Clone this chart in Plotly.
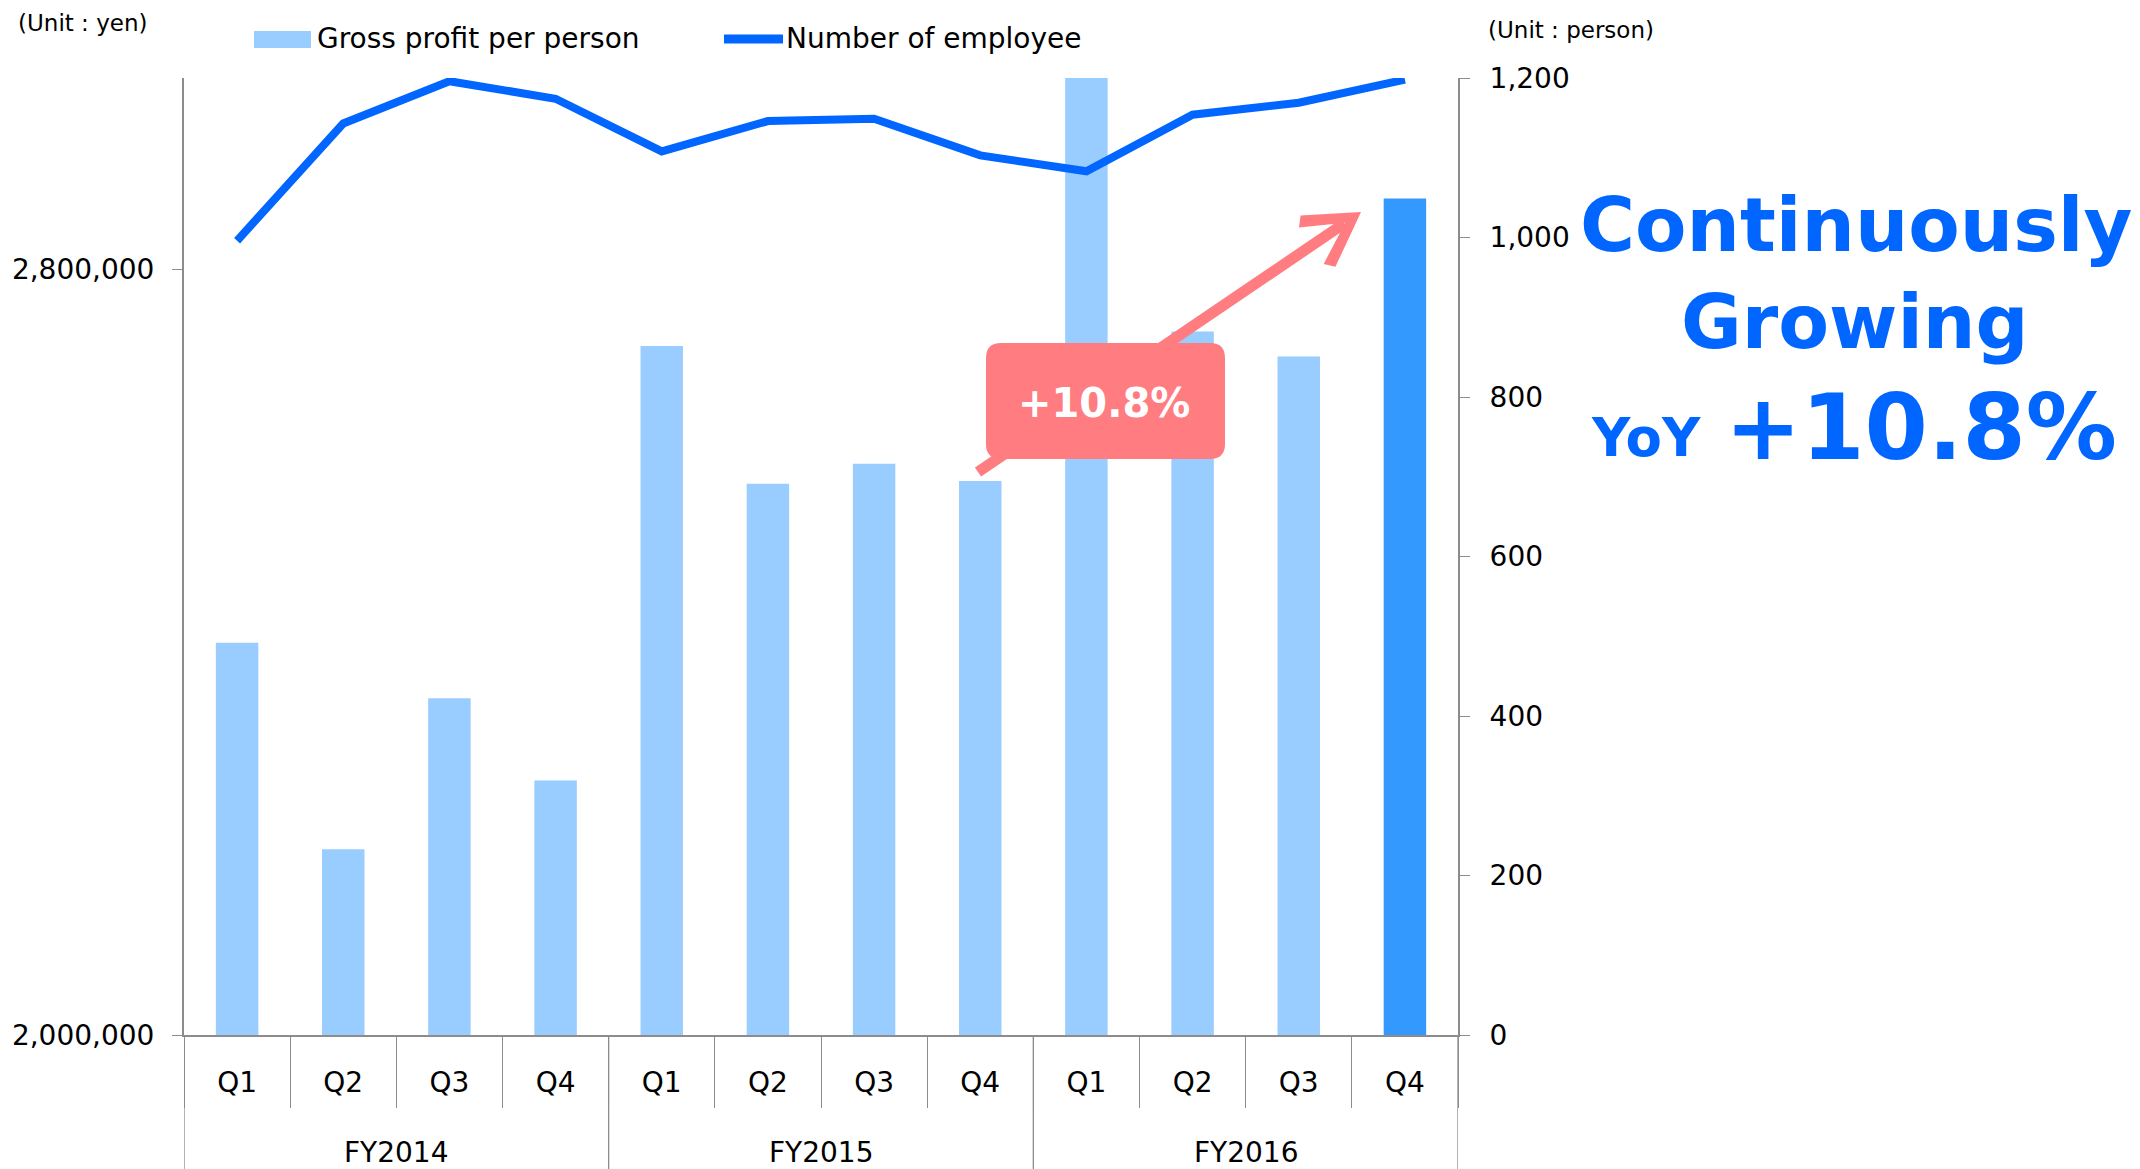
import math
import plotly.graph_objects as go

# ---- data -------------------------------------------------------------
fiscal_years = ["FY2014", "FY2015", "FY2016"]
quarters = ["Q1", "Q2", "Q3", "Q4"]
gross_profit_per_person = [2410000, 2194000, 2352000, 2266000,
                           2720000, 2576000, 2597000, 2579000,
                           3012000, 2735000, 2709000, 2874000]
employees = [996, 1143, 1196, 1174,
             1108, 1146, 1149, 1103,
             1083, 1154, 1169, 1198]
yoy_label = "+10.8%"

# ---- styling ----------------------------------------------------------
W, H = 2140, 1169
ML, MR, MT, MB = 184, 682, 78, 134
PW, PH = W - ML - MR, H - MT - MB
GRAY = "#8C8C8C"
BAR_LIGHT = "#99CCFF"
BAR_HIGHLIGHT = "#3399FF"
LINE_BLUE = "#0066FF"
CALLOUT = "#FF7C80"
FONT = "DejaVu Sans"


def px(xp):
    """Pixel column -> paper x."""
    return (xp - ML) / PW


def py(yp):
    """Pixel row -> paper y."""
    return (H - MB - yp) / PH


# category keys (year + quarter) with quarter-only tick text
keys, tick_text, groups = [], [], []
for fy in fiscal_years:
    for q in quarters:
        keys.append(f"{fy} {q}")
        tick_text.append(q)
        groups.append(fy)

bar_colors = [BAR_LIGHT] * (len(keys) - 1) + [BAR_HIGHLIGHT]

fig = go.Figure()
fig.add_trace(go.Bar(
    x=keys, y=gross_profit_per_person, name="Gross profit per person",
    marker=dict(color=bar_colors, line=dict(width=0)),
    showlegend=False, hoverinfo="skip",
))
fig.add_trace(go.Scatter(
    x=keys, y=employees, name="Number of employee", yaxis="y2",
    mode="lines", line=dict(color=LINE_BLUE, width=8),
    showlegend=False, hoverinfo="skip",
))

shapes = []
annotations = []

# fiscal-year group dividers and labels under the quarter row
n_cat = len(keys)
bounds = [-0.5]
for i in range(1, n_cat):
    if groups[i] != groups[i - 1]:
        bounds.append(i - 0.5)
bounds.append(n_cat - 0.5)
for b in bounds:
    shapes.append(dict(type="line", xref="x", yref="paper",
                       x0=b, x1=b, y0=0, y1=py(H + 2),
                       line=dict(color=GRAY, width=1.3), layer="above"))
for fy in fiscal_years:
    idx = [i for i, g in enumerate(groups) if g == fy]
    annotations.append(dict(xref="x", yref="paper", x=sum(idx) / len(idx),
                            y=py(1152), text=fy, showarrow=False,
                            xanchor="center", yanchor="middle",
                            font=dict(family=FONT, size=28, color="black")))

# legend drawn as swatches + labels across the top
shapes.append(dict(type="rect", xref="paper", yref="paper",
                   x0=px(254), x1=px(311), y0=py(31), y1=py(48),
                   fillcolor=BAR_LIGHT, line=dict(width=0)))
annotations.append(dict(xref="paper", yref="paper", x=px(315), y=py(39),
                        text="Gross profit per person", showarrow=False,
                        xanchor="left", yanchor="middle",
                        font=dict(family=FONT, size=28, color="black")))
shapes.append(dict(type="line", xref="paper", yref="paper",
                   x0=px(724), x1=px(783), y0=py(39), y1=py(39),
                   line=dict(color=LINE_BLUE, width=9)))
annotations.append(dict(xref="paper", yref="paper", x=px(784), y=py(39),
                        text="Number of employee", showarrow=False,
                        xanchor="left", yanchor="middle",
                        font=dict(family=FONT, size=28, color="black")))

# unit captions
annotations.append(dict(xref="paper", yref="paper", x=px(16), y=py(23),
                        text="(Unit : yen)", showarrow=False,
                        xanchor="left", yanchor="middle",
                        font=dict(family=FONT, size=23, color="black")))
annotations.append(dict(xref="paper", yref="paper", x=px(1486), y=py(30),
                        text="(Unit : person)", showarrow=False,
                        xanchor="left", yanchor="middle",
                        font=dict(family=FONT, size=23, color="black")))

# growth arrow: shaft + open head, then the rounded call-out on top
sx, sy = 978, 472
tx, ty = 1361, 212
dx, dy = tx - sx, ty - sy
d = math.hypot(dx, dy)
ux, uy = dx / d, dy / d
nx, ny = -uy, ux


def along(u, n):
    return tx + u * ux + n * nx, ty + u * uy + n * ny


neck = along(-20, 0)
shapes.append(dict(type="line", xref="paper", yref="paper",
                   x0=px(sx), y0=py(sy), x1=px(neck[0]), y1=py(neck[1]),
                   line=dict(color=CALLOUT, width=11)))
head = [along(u, n) for u, n in
        [(0, 0), (-52, -31), (-60, -22), (-19, 0), (-60, 22), (-52, 31)]]
path = "M " + " L ".join(f"{px(a):.5f},{py(b):.5f}" for a, b in head) + " Z"
shapes.append(dict(type="path", xref="paper", yref="paper", path=path,
                   fillcolor=CALLOUT, line=dict(width=0)))

x0, x1, y0, y1, r = 986, 1225, 343, 459, 15
pts = [
    f"M {px(x0 + r)},{py(y0)}", f"L {px(x1 - r)},{py(y0)}",
    f"Q {px(x1)},{py(y0)} {px(x1)},{py(y0 + r)}", f"L {px(x1)},{py(y1 - r)}",
    f"Q {px(x1)},{py(y1)} {px(x1 - r)},{py(y1)}", f"L {px(x0 + r)},{py(y1)}",
    f"Q {px(x0)},{py(y1)} {px(x0)},{py(y1 - r)}", f"L {px(x0)},{py(y0 + r)}",
    f"Q {px(x0)},{py(y0)} {px(x0 + r)},{py(y0)}", "Z",
]
shapes.append(dict(type="path", xref="paper", yref="paper", path=" ".join(pts),
                   fillcolor=CALLOUT, line=dict(width=0)))
annotations.append(dict(xref="paper", yref="paper", x=px(1104), y=py(403),
                        text=f"<b>{yoy_label}</b>", showarrow=False,
                        xanchor="center", yanchor="middle",
                        font=dict(family=FONT, size=40, color="white")))

# headline on the right
annotations.append(dict(xref="paper", yref="paper", x=px(1856), y=py(225),
                        text="<b>Continuously</b>", showarrow=False,
                        xanchor="center", yanchor="middle",
                        font=dict(family=FONT, size=75, color=LINE_BLUE)))
annotations.append(dict(xref="paper", yref="paper", x=px(1854), y=py(322),
                        text="<b>Growing</b>", showarrow=False,
                        xanchor="center", yanchor="middle",
                        font=dict(family=FONT, size=74, color=LINE_BLUE)))
annotations.append(dict(xref="paper", yref="paper", x=px(1646), y=py(438),
                        text="<b>YoY</b>", showarrow=False,
                        xanchor="center", yanchor="middle",
                        font=dict(family=FONT, size=53, color=LINE_BLUE)))
annotations.append(dict(xref="paper", yref="paper", x=px(1921), y=py(427),
                        text=f"<b>{yoy_label}</b>", showarrow=False,
                        xanchor="center", yanchor="middle",
                        font=dict(family=FONT, size=91, color=LINE_BLUE)))

fig.update_layout(
    width=W, height=H,
    margin=dict(l=ML, r=MR, t=MT, b=MB, pad=0),
    paper_bgcolor="white", plot_bgcolor="white",
    font=dict(family=FONT, size=28, color="black"),
    bargap=0.6,
    showlegend=False,
    xaxis=dict(
        type="category", tickmode="array", tickvals=keys, ticktext=tick_text,
        range=[-0.5, n_cat - 0.5], ticks="outside", tickson="boundaries",
        ticklen=71, tickwidth=1.3, tickcolor=GRAY,
        showline=True, linecolor=GRAY, linewidth=2,
        showgrid=False, zeroline=False, ticklabelstandoff=21,
        tickfont=dict(family=FONT, size=28, color="black"),
    ),
    yaxis=dict(
        range=[2000000, 3000000], tickmode="linear", tick0=2000000, dtick=800000,
        tickformat=",", ticks="outside", ticklen=10, tickwidth=1.3, tickcolor=GRAY,
        showline=True, linecolor=GRAY, linewidth=2,
        showgrid=False, zeroline=False, ticklabelstandoff=12,
        tickfont=dict(family=FONT, size=28, color="black"),
    ),
    yaxis2=dict(
        overlaying="y", side="right", range=[0, 1200], tickmode="linear",
        tick0=0, dtick=200, tickformat=",", ticks="outside", ticklen=10,
        tickwidth=1.3, tickcolor=GRAY, showline=True, linecolor=GRAY, linewidth=2,
        showgrid=False, zeroline=False, ticklabelstandoff=14,
        tickfont=dict(family=FONT, size=28, color="black"),
    ),
    shapes=shapes,
    annotations=annotations,
)

fig.write_html("out.html")
